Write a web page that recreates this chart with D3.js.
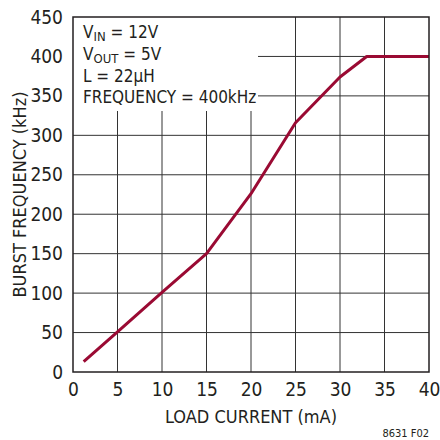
<!DOCTYPE html>
<html>
<head>
<meta charset="utf-8">
<script src="https://cdn.jsdelivr.net/npm/d3@7"></script>
<style>
  body { margin: 0; background: #fff; }
  text { font-family: "DejaVu Sans", sans-serif; font-stretch: condensed; fill: #231f20; }
</style>
</head>
<body>
<svg id="chart" width="440" height="440"></svg>
<script>
// load current (mA) vs burst frequency (kHz)
var loadCurrent = [1.2, 5, 10, 15, 20, 25, 30, 33, 40];
var burstFreq   = [13, 51, 101, 150, 226, 316, 374, 400, 400];
var xTicks = [0, 5, 10, 15, 20, 25, 30, 35, 40];
var yTicks = [0, 50, 100, 150, 200, 250, 300, 350, 400, 450];
var notes = ["V|IN| = 12V", "V|OUT| = 5V", "L = 22µH", "FREQUENCY = 400kHz"];

var svg = d3.select("#chart"),
    pL = 73, pR = 429, pT = 17, pB = 372;

var x = d3.scaleLinear().domain([0, 40]).range([pL, pR]);
var y = d3.scaleLinear().domain([0, 450]).range([pB, pT]);

// grid
var grid = svg.append("g").attr("stroke", "#333").attr("stroke-width", 1);
grid.selectAll(".vx").data(xTicks.slice(1, -1)).enter().append("line")
    .attr("x1", function(d) { return x(d); }).attr("x2", function(d) { return x(d); })
    .attr("y1", pT).attr("y2", pB);
grid.selectAll(".hy").data(yTicks.slice(1, -1)).enter().append("line")
    .attr("x1", pL).attr("x2", pR)
    .attr("y1", function(d) { return y(d); }).attr("y2", function(d) { return y(d); });

// white box behind the notes
svg.append("rect").attr("x", pL).attr("y", pT)
    .attr("width", 185).attr("height", 94).attr("fill", "#fff");

// curve
var line = d3.line()
    .x(function(d, i) { return x(loadCurrent[i]); })
    .y(function(d) { return y(d); });
svg.append("path").datum(burstFreq)
    .attr("d", line)
    .attr("fill", "none")
    .attr("stroke", "#9a0a33")
    .attr("stroke-width", 3)
    .attr("stroke-linejoin", "round");

// frame
svg.append("rect").attr("x", pL).attr("y", pT)
    .attr("width", pR - pL).attr("height", pB - pT)
    .attr("fill", "none").attr("stroke", "#231f20").attr("stroke-width", 1.5);

// axes via d3 axis, restyled
var xAxis = svg.append("g").attr("transform", "translate(0," + pB + ")")
    .call(d3.axisBottom(x).tickValues(xTicks).tickSize(0).tickPadding(11));
var yAxis = svg.append("g").attr("transform", "translate(" + pL + ",0)")
    .call(d3.axisLeft(y).tickValues(yTicks).tickSize(0).tickPadding(10));
[xAxis, yAxis].forEach(function(a) {
  a.select(".domain").remove();
  a.selectAll("text").attr("font-size", 19).attr("font-family", null).style("fill", "#231f20");
});

// notes
var noteY = [38, 60, 82, 103];
notes.forEach(function(n, i) {
  var parts = n.split("|");
  var t = svg.append("text").attr("x", 83).attr("y", noteY[i]).attr("font-size", 17);
  t.append("tspan").text(parts[0]);
  if (parts.length > 1) {
    t.append("tspan").attr("dy", 3).attr("font-size", 13).text(parts[1]);
    t.append("tspan").attr("dy", -3).text(parts[2]);
  }
});

// axis titles
svg.append("text").attr("x", (pL + pR) / 2).attr("y", 423)
    .attr("text-anchor", "middle").attr("font-size", 18).text("LOAD CURRENT (mA)");
svg.append("text")
    .attr("transform", "translate(26," + ((pT + pB) / 2) + ") rotate(-90)")
    .attr("text-anchor", "middle").attr("font-size", 18).text("BURST FREQUENCY (kHz)");
svg.append("text").attr("x", 429).attr("y", 437)
    .attr("text-anchor", "end").attr("font-size", 11).text("8631 F02");
</script>
</body>
</html>
